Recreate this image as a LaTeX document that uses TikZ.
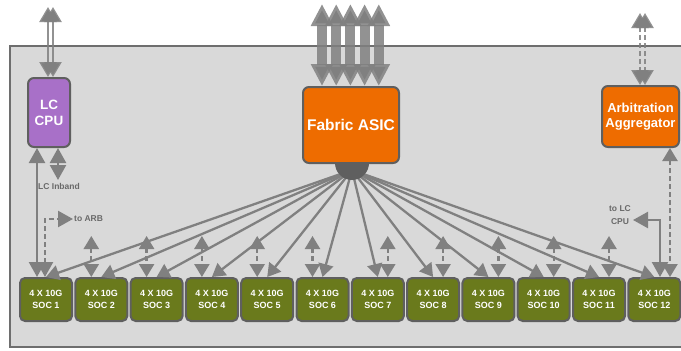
\documentclass[tikz,border=0pt]{standalone}
\usepackage{fontspec}
\setmainfont{Liberation Sans}
\usetikzlibrary{arrows.meta,calc}

\definecolor{panelfill}{RGB}{217,217,217}
\definecolor{panelline}{RGB}{110,110,110}
\definecolor{boxline}{RGB}{95,95,95}
\definecolor{cpupurple}{RGB}{168,112,200}
\definecolor{asicorange}{RGB}{238,108,0}
\definecolor{socgreen}{RGB}{106,122,28}
\definecolor{wirecol}{RGB}{128,128,128}
\definecolor{labelgray}{RGB}{105,105,105}

\begin{document}
\begin{tikzpicture}[x=1pt,y=-1pt,
  block/.style={draw=boxline, line width=2pt, rounded corners=6pt, text=white,
    align=center, inner sep=0pt},
  cpubox/.style={block, fill=cpupurple, minimum width=42pt, minimum height=69pt,
    font=\bfseries\fontsize{13.5}{16}\selectfont},
  asicbox/.style={block, fill=asicorange, minimum width=96pt, minimum height=76pt,
    font=\bfseries\fontsize{15.5}{18}\selectfont},
  arbbox/.style={block, fill=asicorange, minimum width=77pt, minimum height=61pt,
    font=\bfseries\fontsize{13}{15}\selectfont},
  socbox/.style={block, fill=socgreen, minimum width=52pt, minimum height=43pt,
    rounded corners=5pt, font=\bfseries\fontsize{9}{12.5}\selectfont},
  tagtext/.style={text=labelgray, font=\bfseries\fontsize{8.5}{13}\selectfont,
    inner sep=0pt, align=center},
  tipS/.tip={Triangle[length=13pt,width=15pt]},
  tipM/.tip={Triangle[length=15pt,width=16pt]},
  tipL/.tip={Triangle[length=22pt,width=21pt]},
  wire/.style={draw=wirecol, line width=2.3pt},
  fanwire/.style={wire, -tipS},
  linkwire/.style={wire, tipM-tipM},
  dashwire/.style={wire, dash pattern=on 5pt off 3pt, tipS-tipS},
  pairwire/.style={wire, line width=2.5pt, draw opacity=0.85,
    {Triangle[length=15pt,width=17pt]}-{Triangle[length=15pt,width=17pt]}},
  dashpair/.style={pairwire, dash pattern=on 5pt off 3pt},
  pipe/.style={draw=wirecol, line width=10pt, draw opacity=0.85, tipL-tipL},
]
% page and panel
\path[use as bounding box, fill=white] (0,0) rectangle (681,351);
\clip (0,0) rectangle (681,351);
\draw[panelline, fill=panelfill, line width=2pt] (10,46) rectangle (695,347);

% line-card SOCs
\foreach \i in {1,...,12}
  \node[socbox] (soc\i) at ({46+(\i-1)*55.3}, 299.5) {4 X 10G\\SOC \i};

% fan-out from the fabric ASIC
\coordinate (hub) at (352,170);
\foreach \i in {1,...,12}
  \draw[fanwire] (hub) -- (soc\i.north);
\fill[boxline] (352,163) circle[radius=17pt];

% processors
\node[cpubox] (lccpu) at (49,112.5) {LC\\CPU};
\node[asicbox] (asic) at (351,125) {Fabric ASIC};
\node[arbbox] (arb) at (640.5,116.5) {Arbitration\\Aggregator};

% short dashed links at each SOC
\foreach \i in {2,...,6} {
  \coordinate (d\i) at ($(soc\i.north)+(-10,-41)$);
  \draw[dashwire] (d\i) -- (d\i |- soc\i.north);
}
\foreach \i in {7,...,11} {
  \coordinate (d\i) at ($(soc\i.north)+(10,-41)$);
  \draw[dashwire] (d\i) -- (d\i |- soc\i.north);
}

% uplinks above the panel
\coordinate (lcup1) at (48,7);
\coordinate (lcup2) at (53,7);
\draw[pairwire] (lcup1) -- (lcup1 |- lccpu.north);
\draw[pairwire] (lcup2) -- (lcup2 |- lccpu.north);
\coordinate (arbup1) at (640,13);
\coordinate (arbup2) at (645,13);
\draw[dashpair] (arbup1) -- (arbup1 |- arb.north);
\draw[dashpair] (arbup2) -- (arbup2 |- arb.north);
\foreach \k in {0,...,4} {
  \coordinate (fup\k) at ({322+14.2*\k},4);
  \draw[pipe] (fup\k) -- (fup\k |- asic.north);
}

% LC CPU links
\draw[linkwire] (37,0 |- lccpu.south) -- (37,0 |- soc1.north);
\coordinate (inband) at (58,180);
\draw[linkwire] (58,0 |- lccpu.south) -- (inband);
\node[tagtext] (inbandlbl) at (59,186) {LC Inband};

\coordinate (toarb) at (73,219);
\draw[wire, dash pattern=on 5pt off 3pt, tipM-tipM] (45,0 |- soc1.north) |- (toarb);
\node[tagtext, anchor=west] (toarblbl) at ([xshift=1pt]toarb) {to ARB};

% SOC 12 links
\coordinate (tolc) at (633,220);
\draw[linkwire] (660,0 |- soc12.north) |- (tolc);
\node[tagtext] (tolclbl) at (620,215.5) {to LC\\CPU};
\draw[dashwire] (670,0 |- arb.south) -- (670,0 |- soc12.north);
\end{tikzpicture}
\end{document}
